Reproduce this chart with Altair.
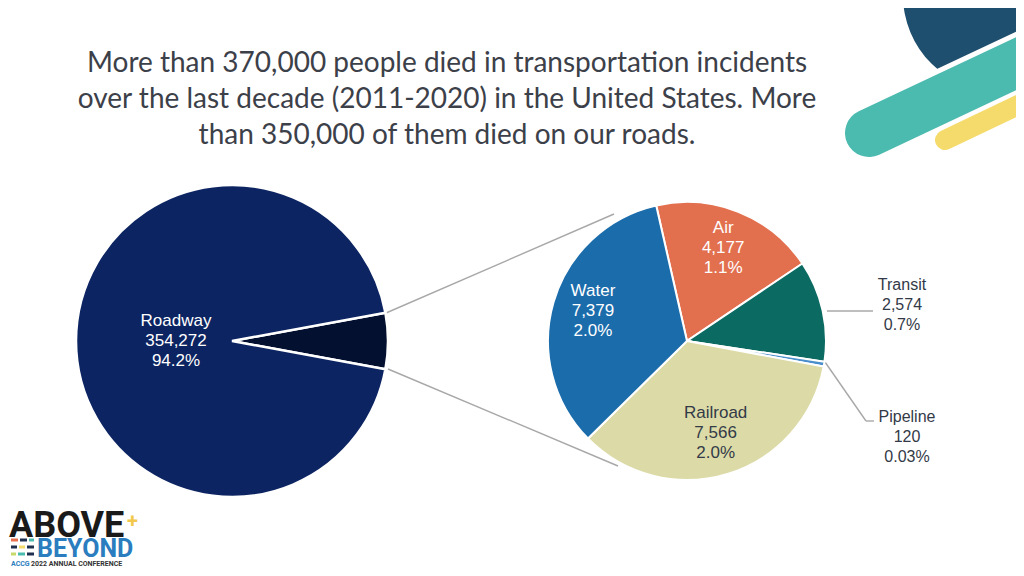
import math
import altair as alt
import pandas as pd

# ---------------- data ----------------
modes = ["Air", "Transit", "Pipeline", "Railroad", "Water"]
deaths = [4177, 2574, 120, 7566, 7379]
pct_labels = ["1.1%", "0.7%", "0.03%", "2.0%", "2.0%"]
mode_colors = ["#E2704F", "#0B6A61", "#4A8FCB", "#DCDBA8", "#1B6CAB"]
inside_modes = ["Air", "Water", "Railroad"]

road_name = "Roadway"
road_deaths = 354272
road_pct = "94.2%"
left_colors = ["#04102F", "#0C2461"]

title_lines = [
    "More than 370,000 people died in transportation incidents",
    "over the last decade (2011-2020) in the United States. More",
    "than 350,000 of them died on our roads.",
]

# ---------------- helpers ----------------
W, H = 1008, 560
def px(x):
    return x - 8
def py(y):
    return y - 8

TWO_PI = 2 * math.pi
dummy = pd.DataFrame({"d": [0]})

right_df = pd.DataFrame({
    "mode": modes,
    "deaths": deaths,
    "pct": pct_labels,
    "order": list(range(len(modes))),
})
right_df["inside_label"] = [
    f"{m}\n{d:,}\n{p}" if m in inside_modes else ""
    for m, d, p in zip(modes, deaths, pct_labels)
]

other_total = sum(deaths)
left_df = pd.DataFrame({
    "part": ["Other modes", road_name],
    "deaths": [other_total, road_deaths],
    "order": [0, 1],
    "label": ["", f"{road_name}\n{road_deaths:,}\n{road_pct}"],
})

# left pie: small slice centred on 3 o'clock
other_frac = other_total / (other_total + road_deaths)
left_start = math.pi / 2 - other_frac * math.pi
left_theta = alt.Theta("deaths:Q", stack=True,
                       scale=alt.Scale(range=[left_start, left_start + TWO_PI]))
right_start = -0.2234
right_theta = alt.Theta("deaths:Q", stack=True,
                        scale=alt.Scale(range=[right_start, right_start + TWO_PI]))

LCX, LCY, LR = px(232), py(341), 156
RCX, RCY, RR = px(687), py(341), 139

FONT = "Liberation Sans"
FW = "normal"
DARK = "#333A47"
LH = 20

left_arcs = alt.Chart(left_df).mark_arc(radius=LR, stroke="white", strokeWidth=2.5).encode(
    theta=left_theta,
    order=alt.Order("order:Q"),
    color=alt.Color("part:N", scale=alt.Scale(domain=["Other modes", road_name], range=left_colors), legend=None),
    x=alt.value(LCX), y=alt.value(LCY),
)
left_text = alt.Chart(left_df).mark_text(
    radius=56, font=FONT, fontWeight=FW, fontSize=17, lineBreak="\n", lineHeight=LH,
    color="white", dy=-LH,
).encode(
    theta=left_theta, order=alt.Order("order:Q"), text="label:N",
    x=alt.value(LCX), y=alt.value(LCY),
)

right_arcs = alt.Chart(right_df).mark_arc(radius=RR, stroke="white", strokeWidth=2).encode(
    theta=right_theta,
    order=alt.Order("order:Q"),
    color=alt.Color("mode:N", scale=alt.Scale(domain=modes, range=mode_colors), legend=None),
    x=alt.value(RCX), y=alt.value(RCY),
)
right_text = alt.Chart(right_df).mark_text(
    radius=98, font=FONT, fontWeight=FW, fontSize=17, lineBreak="\n", lineHeight=LH, dy=-22,
).encode(
    theta=right_theta, order=alt.Order("order:Q"), text="inside_label:N",
    color=alt.condition(alt.datum.mode == "Railroad", alt.value(DARK), alt.value("white")),
    x=alt.value(RCX), y=alt.value(RCY),
)

# outside labels
transit_i = modes.index("Transit")
pipe_i = modes.index("Pipeline")
transit_txt = alt.Chart(dummy).mark_text(
    font=FONT, fontWeight=FW, fontSize=16, lineBreak="\n", lineHeight=LH, color=DARK, dy=-LH,
).encode(
    text=alt.value(f"{modes[transit_i]}\n{deaths[transit_i]:,}\n{pct_labels[transit_i]}"),
    x=alt.value(px(902)), y=alt.value(py(305)),
)
pipe_txt = alt.Chart(dummy).mark_text(
    font=FONT, fontWeight=FW, fontSize=16, lineBreak="\n", lineHeight=LH, color=DARK, dy=-LH,
).encode(
    text=alt.value(f"{modes[pipe_i]}\n{deaths[pipe_i]:,}\n{pct_labels[pipe_i]}"),
    x=alt.value(px(907)), y=alt.value(py(437)),
)

def seg(x1, y1, x2, y2, color="#A8A8A8", w=1.4, cap="butt"):
    return alt.Chart(dummy).mark_rule(color=color, strokeWidth=w, strokeCap=cap).encode(
        x=alt.value(px(x1)), y=alt.value(py(y1)), x2=alt.value(px(x2)), y2=alt.value(py(y2))
    )

leaders = [
    seg(827, 311, 873, 311),
    seg(825, 362, 866, 421),
    seg(866, 421, 874, 421),
    seg(386, 313, 614, 214),
    seg(388, 369, 618, 466),
]

# title
title = alt.Chart(dummy).mark_text(
    font="Lato", fontSize=28, lineBreak="\n", lineHeight=36, color="#3C4049",
    baseline="alphabetic", align="center",
).encode(
    text=alt.value("\n".join(title_lines)),
    x=alt.value(px(447)), y=alt.value(py(72)),
)

# decorations (top right)
circle = alt.Chart(dummy).mark_arc(radius=97, theta=0, theta2=TWO_PI, color="#1E4F6E").encode(
    x=alt.value(px(1000)), y=alt.value(py(-5)),
)
decor = [
    circle,
    seg(869, 133, 1060, 43, color="white", w=58, cap="round"),
    seg(869, 133, 1060, 43, color="#4BBAAF", w=48, cap="round"),
    seg(945, 140, 1060, 85, color="#F5DB6C", w=20, cap="round"),
]

# logo (bottom left)
logo_above = alt.Chart(dummy).mark_text(
    font="Roboto", fontWeight="bold", fontSize=36, color="#1A1A1A", align="left", baseline="alphabetic"
).encode(text=alt.value("ABOVE"), x=alt.value(px(9)), y=alt.value(py(537)))
logo_plus = alt.Chart(dummy).mark_text(
    font="Roboto", fontWeight="bold", fontSize=20, color="#F2C94C", align="left", baseline="alphabetic"
).encode(text=alt.value("+"), x=alt.value(px(127)), y=alt.value(py(528)))
logo_beyond = alt.Chart(dummy).mark_text(
    font="Roboto", fontWeight="bold", fontSize=25, color="#2A7DBE", align="left", baseline="alphabetic"
).encode(text=alt.value("BEYOND"), x=alt.value(px(37)), y=alt.value(py(557)))
logo_accg = alt.Chart(dummy).mark_text(
    font="Roboto", fontWeight="bold", fontSize=7, color="#2A7DBE", align="left", baseline="alphabetic"
).encode(text=alt.value("ACCG"), x=alt.value(px(11)), y=alt.value(py(566)))
logo_conf = alt.Chart(dummy).mark_text(
    font="Roboto", fontWeight="bold", fontSize=7, color="#333333", align="left", baseline="alphabetic"
).encode(text=alt.value("2022  ANNUAL  CONFERENCE"), x=alt.value(px(31)), y=alt.value(py(566)))
dashes = [
    seg(11, 540, 18, 540, color="#E8704F", w=3),
    seg(20, 540, 27, 540, color="#1E2F4F", w=3),
    seg(29, 540, 34, 540, color="#4BBAAF", w=3),
    seg(11, 547, 17, 547, color="#1E2F4F", w=3),
    seg(19, 547, 25, 547, color="#F5DB6C", w=3),
    seg(27, 547, 34, 547, color="#1E2F4F", w=3),
    seg(11, 554, 16, 554, color="#C9D86A", w=3),
    seg(18, 554, 25, 554, color="#4BBAAF", w=3),
    seg(27, 554, 34, 554, color="#1E2F4F", w=3),
]

layers = decor + [title] + leaders + [left_arcs, left_text, right_arcs, right_text,
                                      transit_txt, pipe_txt,
                                      logo_above, logo_plus, logo_beyond, logo_accg, logo_conf] + dashes

chart = alt.layer(*layers).resolve_scale(theta="independent", color="independent").properties(
    width=W, height=H, padding=0, autosize=alt.AutoSizeParams(type="none"),
    background="white",
).configure_view(stroke=None)

chart.save("out.html", embed_options={"renderer": "svg", "actions": False})
